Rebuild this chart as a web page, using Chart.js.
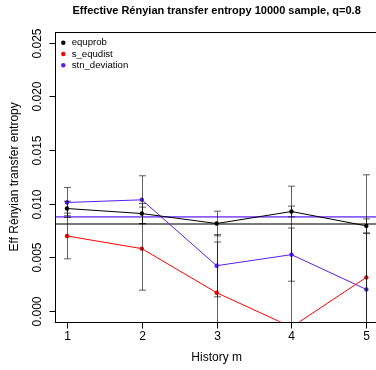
<!DOCTYPE html>
<html>
<head>
<meta charset="utf-8">
<script src="https://cdn.jsdelivr.net/npm/chart.js@4"></script>
<style>
  html, body { margin: 0; padding: 0; background: #fff; overflow: hidden; }
  canvas { display: block; }
</style>
</head>
<body>
<canvas id="c" width="400" height="370"></canvas>
<script>
// History m
const historyM = [1, 2, 3, 4, 5];

// Effective Renyian transfer entropy per estimator
const equprob = [0.00955, 0.00908, 0.00815, 0.00927, 0.00793];
const sEqudist = [0.00699, 0.00581, 0.00170, -0.00150, 0.00313];
const stnDeviation = [0.01011, 0.01036, 0.00422, 0.00525, 0.00201];

// error bar half widths (sd)
const equprobErr = [0.00068, 0.00093, 0.00115, 0.00050, 0.00065];
const sEqudistErr = [0.00213, 0.00387, 0.00473, 0.01313, 0.00956];
const stnDeviationErr = [0.00140, 0.00224, 0.00290, 0.00248, 0.00520];

// horizontal reference lines
const refEquprob = 0.00811;
const refStnDeviation = 0.00877;

const yTicks = [0.000, 0.005, 0.010, 0.015, 0.020, 0.025];
const xTicks = [1, 2, 3, 4, 5];

const seriesNames = ['equprob', 's_equdist', 'stn_deviation'];
const seriesColors = ['#000000', '#ff0000', '#5b1cf5'];

const FONT = '"Liberation Sans", Arial, Helvetica, sans-serif';

function pts(vals) {
    return historyM.map((m, i) => ({ x: m, y: vals[i] }));
}

function hline(v) {
    return [{ x: 0.84, y: v }, { x: 5.16, y: v }];
}

const values = [equprob, sEqudist, stnDeviation];
const errors = [equprobErr, sEqudistErr, stnDeviationErr];

// R-style axes, box, titles, legend
const rAxes = {
    id: 'rAxes',
    afterDraw(chart) {
        const ctx = chart.ctx;
        const a = chart.chartArea;
        const xs = chart.scales.x, ys = chart.scales.y;
        ctx.save();
        ctx.strokeStyle = '#000';
        ctx.lineWidth = 1;
        const L = Math.round(a.left) + 0.5, T = Math.round(a.top) + 0.5;
        const R = Math.round(a.right) + 0.5, B = Math.round(a.bottom) + 0.5;
        ctx.strokeRect(L, T, R - L, B - T);

        // y ticks
        ctx.fillStyle = '#000';
        ctx.font = '12px ' + FONT;
        ctx.textAlign = 'center';
        ctx.textBaseline = 'middle';
        yTicks.forEach(v => {
            const py = Math.round(ys.getPixelForValue(v)) + 0.5;
            ctx.beginPath();
            ctx.moveTo(L - 6, py);
            ctx.lineTo(L, py);
            ctx.stroke();
            ctx.save();
            ctx.translate(38, py);
            ctx.rotate(-Math.PI / 2);
            ctx.fillText(v.toFixed(3), 0, 0);
            ctx.restore();
        });

        // x ticks
        xTicks.forEach(v => {
            const px = Math.round(xs.getPixelForValue(v)) + 0.5;
            ctx.beginPath();
            ctx.moveTo(px, B);
            ctx.lineTo(px, B + 6);
            ctx.stroke();
            ctx.fillText(String(v), px, 337);
        });

        // axis titles
        ctx.fillText('History m', (a.left + a.right) / 2, 358);
        ctx.save();
        ctx.translate(15, (a.top + a.bottom) / 2);
        ctx.rotate(-Math.PI / 2);
        ctx.fillText('Eff Rényian transfer entropy', 0, 0);
        ctx.restore();

        // main title
        ctx.font = 'bold 11px ' + FONT;
        ctx.fillText('Effective Rényian transfer entropy 10000 sample, q=0.8', (a.left + a.right) / 2, 11);

        // legend
        ctx.font = '9.6px ' + FONT;
        ctx.textAlign = 'left';
        seriesNames.forEach((name, i) => {
            const y = 42.7 + i * 11.3;
            ctx.fillStyle = seriesColors[i];
            ctx.beginPath();
            ctx.arc(63.3, y, 2.2, 0, Math.PI * 2);
            ctx.fill();
            ctx.fillStyle = '#000';
            ctx.fillText(name, 71.7, y);
        });
        ctx.restore();
    }
};

// error bars with caps
const errorBars = {
    id: 'errorBars',
    afterDatasetsDraw(chart) {
        const ctx = chart.ctx;
        const a = chart.chartArea;
        const xs = chart.scales.x, ys = chart.scales.y;
        ctx.save();
        ctx.beginPath();
        ctx.rect(a.left, a.top, a.right - a.left, a.bottom - a.top);
        ctx.clip();
        ctx.strokeStyle = 'rgba(0,0,0,0.62)';
        ctx.lineWidth = 1;
        values.forEach((vals, s) => {
            vals.forEach((v, i) => {
                const px = Math.round(xs.getPixelForValue(historyM[i])) + 0.5;
                const top = ys.getPixelForValue(v + errors[s][i]);
                const bot = ys.getPixelForValue(v - errors[s][i]);
                ctx.beginPath();
                ctx.moveTo(px, top);
                ctx.lineTo(px, bot);
                ctx.moveTo(px - 3.5, top);
                ctx.lineTo(px + 3.5, top);
                ctx.moveTo(px - 3.5, bot);
                ctx.lineTo(px + 3.5, bot);
                ctx.stroke();
            });
        });
        ctx.restore();
    }
};

new Chart(document.getElementById('c'), {
    type: 'line',
    data: {
        datasets: [
            {
                label: seriesNames[0],
                data: pts(equprob),
                borderColor: seriesColors[0],
                backgroundColor: seriesColors[0],
                borderWidth: 1,
                pointRadius: 2.2,
                pointBorderWidth: 0
            },
            {
                label: seriesNames[1],
                data: pts(sEqudist),
                borderColor: seriesColors[1],
                backgroundColor: seriesColors[1],
                borderWidth: 1,
                pointRadius: 2.2,
                pointBorderWidth: 0
            },
            {
                label: seriesNames[2],
                data: pts(stnDeviation),
                borderColor: seriesColors[2],
                backgroundColor: seriesColors[2],
                borderWidth: 1,
                pointRadius: 2.2,
                pointBorderWidth: 0
            },
            {
                label: 'ref equprob',
                data: hline(refEquprob),
                borderColor: 'rgba(0,0,0,0.7)',
                borderWidth: 1.5,
                pointRadius: 0
            },
            {
                label: 'ref stn_deviation',
                data: hline(refStnDeviation),
                borderColor: 'rgba(100,40,255,0.75)',
                borderWidth: 1.6,
                pointRadius: 0
            }
        ]
    },
    options: {
        responsive: false,
        animation: false,
        layout: { padding: { left: 55, top: 32, right: 21.7, bottom: 48.3 } },
        plugins: { legend: { display: false }, tooltip: { enabled: false } },
        scales: {
            x: { type: 'linear', min: 0.84, max: 5.16, display: false },
            y: { type: 'linear', min: -0.001, max: 0.026, display: false }
        }
    },
    plugins: [errorBars, rAxes]
});
</script>
</body>
</html>
